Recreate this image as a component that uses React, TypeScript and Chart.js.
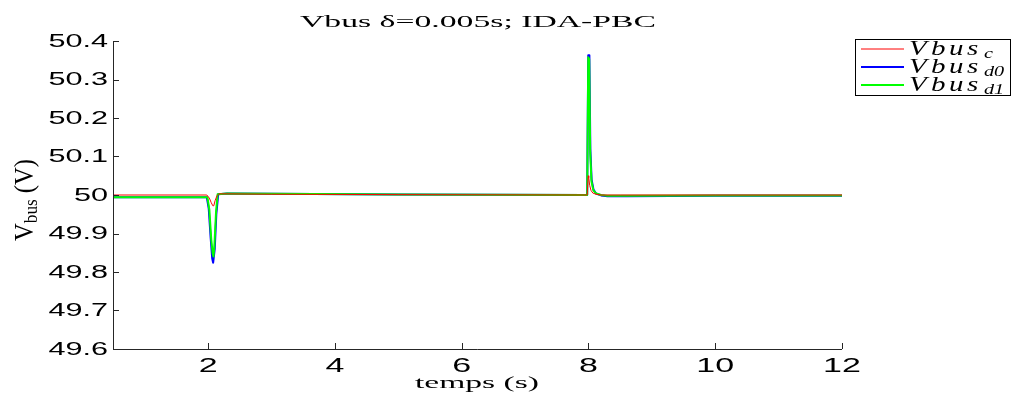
import React, { useEffect, useRef } from 'react';
import { Chart, registerables } from 'chart.js';

Chart.register(...registerables);

// ---- data ----
const timeC = [0.5, 1.98, 2.02, 2.05, 2.075, 2.09, 2.11, 2.14, 2.17, 2.3, 3, 5, 7.98, 7.997, 8.005, 8.02, 8.04, 8.07, 8.12, 8.2, 8.5, 10, 12];
const vbusC = [50.0, 50.0, 49.992, 49.98, 49.972, 49.972, 49.985, 49.998, 50.003, 50.003, 50.002, 50.001, 50.0, 50.05, 50.045, 50.025, 50.012, 50.005, 50.002, 50.0, 50.0, 50.0, 50.0];

const timeD0 = [0.5, 1.98, 2.01, 2.04, 2.065, 2.08, 2.09, 2.105, 2.13, 2.16, 2.3, 3, 5, 7.98, 7.997, 8.015, 8.03, 8.05, 8.08, 8.12, 8.2, 8.3, 8.6, 10, 12];
const vbusD0 = [49.994, 49.994, 49.965, 49.89, 49.835, 49.824, 49.824, 49.86, 49.95, 50.002, 50.004, 50.003, 50.001, 50.0, 50.363, 50.363, 50.12, 50.04, 50.014, 50.004, 49.999, 49.997, 49.997, 49.998, 49.998];

const timeD1 = [0.5, 1.99, 2.02, 2.05, 2.072, 2.085, 2.1, 2.125, 2.15, 2.3, 3, 5, 7.98, 7.997, 8.012, 8.028, 8.048, 8.078, 8.12, 8.2, 8.3, 8.6, 10, 12];
const vbusD1 = [49.994, 49.994, 49.962, 49.885, 49.848, 49.84, 49.87, 49.955, 50.002, 50.004, 50.003, 50.001, 50.0, 50.358, 50.353, 50.11, 50.035, 50.012, 50.004, 50.0, 49.998, 49.998, 49.999, 49.999];

const xTicks = [2, 4, 6, 8, 10, 12];
const xTickLabels = ['2', '4', '6', '8', '10', '12'];
const yTicks = [49.6, 49.7, 49.8, 49.9, 50.0, 50.1, 50.2, 50.3, 50.4];
const yTickLabels = ['49.6', '49.7', '49.8', '49.9', '50', '50.1', '50.2', '50.3', '50.4'];

const legendNames = ['c', 'd0', 'd1'];
const seriesColors = ['rgb(255,0,0)', 'rgb(0,0,255)', 'rgb(0,255,0)'];
const seriesWidths = [1, 2, 2];

const titleText = 'Vbus \u03b4=0.005s; IDA-PBC';
const xLabelText = 'temps (s)';

function toPoints(t: number[], v: number[]) {
  return t.map((x, i) => ({ x, y: v[i] }));
}

const AXIS_COLOR = '#262626';

function stretchedText(ctx: CanvasRenderingContext2D, text: string, x: number, y: number, sx: number) {
  ctx.save();
  ctx.translate(x, y);
  ctx.scale(sx, 1);
  ctx.fillText(text, 0, 0);
  ctx.restore();
}

function fitText(ctx: CanvasRenderingContext2D, text: string, cx: number, y: number, width: number) {
  const w = ctx.measureText(text).width;
  ctx.save();
  ctx.textAlign = 'center';
  ctx.translate(cx, y);
  ctx.scale(width / w, 1);
  ctx.fillText(text, 0, 0);
  ctx.restore();
}

const decorPlugin = {
  id: 'decor',
  afterDraw(chart: any) {
    const ctx = chart.ctx as CanvasRenderingContext2D;
    const { left, right, top, bottom } = chart.chartArea;
    const xs = chart.scales.x;
    const ys = chart.scales.y;
    ctx.save();
    // axes lines
    ctx.strokeStyle = AXIS_COLOR;
    ctx.lineWidth = 1;
    ctx.beginPath();
    ctx.moveTo(left + 0.5, top);
    ctx.lineTo(left + 0.5, bottom + 0.5);
    ctx.lineTo(right, bottom + 0.5);
    ctx.stroke();
    // inward ticks
    ctx.beginPath();
    yTicks.forEach((v) => {
      const py = Math.round(ys.getPixelForValue(v)) + 0.5;
      ctx.moveTo(left, py);
      ctx.lineTo(left + 6, py);
    });
    xTicks.forEach((v) => {
      const px = Math.round(xs.getPixelForValue(v)) + 0.5;
      ctx.moveTo(px, bottom);
      ctx.lineTo(px, bottom - 6);
    });
    ctx.stroke();

    // tick labels (stretched sans)
    ctx.fillStyle = '#000';
    ctx.font = '18px "Liberation Sans"';
    ctx.textAlign = 'right';
    ctx.textBaseline = 'middle';
    yTicks.forEach((v, i) => {
      stretchedText(ctx, yTickLabels[i], left - 5, ys.getPixelForValue(v) + 1, 1.7);
    });
    ctx.font = '20px "Liberation Sans"';
    ctx.textAlign = 'center';
    ctx.textBaseline = 'top';
    xTicks.forEach((v, i) => {
      stretchedText(ctx, xTickLabels[i], xs.getPixelForValue(v), bottom + 7, 1.7);
    });

    // title
    ctx.font = '17px "Liberation Serif"';
    ctx.textBaseline = 'alphabetic';
    fitText(ctx, titleText, 478, 27, 356);

    // x label
    ctx.font = '17px "Liberation Serif"';
    fitText(ctx, xLabelText, 477, 388, 124);

    // y label V_bus (V), rotated
    ctx.save();
    ctx.translate(33, 200);
    ctx.rotate(-Math.PI / 2);
    ctx.scale(1, 1.4);
    ctx.textAlign = 'left';
    ctx.font = '20px "Liberation Serif"';
    const wV = ctx.measureText('V').width;
    ctx.font = '14px "Liberation Serif"';
    const wSub = ctx.measureText('bus').width;
    ctx.font = '20px "Liberation Serif"';
    const wRest = ctx.measureText(' (V)').width;
    const total = wV + wSub + wRest;
    const k = 82 / total;
    ctx.scale(k, 1);
    let cx = -total / 2;
    ctx.fillText('V', cx, 0);
    cx += wV;
    ctx.font = '14px "Liberation Serif"';
    ctx.fillText('bus', cx, 3);
    cx += wSub;
    ctx.font = '20px "Liberation Serif"';
    ctx.fillText(' (V)', cx, 0);
    ctx.restore();

    // legend
    const bx = 855, by = 39, bw = 156, bh = 56;
    ctx.fillStyle = '#fff';
    ctx.fillRect(bx, by, bw, bh);
    ctx.strokeStyle = '#000';
    ctx.lineWidth = 1;
    ctx.strokeRect(bx + 0.5, by + 0.5, bw - 1, bh);
    const rowY = [49, 67, 85];
    legendNames.forEach((name, i) => {
      ctx.strokeStyle = seriesColors[i];
      ctx.lineWidth = seriesWidths[i];
      ctx.beginPath();
      ctx.moveTo(861, rowY[i]);
      ctx.lineTo(904, rowY[i]);
      ctx.stroke();
      ctx.fillStyle = '#000';
      ctx.textAlign = 'left';
      ctx.textBaseline = 'alphabetic';
      ctx.font = 'italic 20px "Liberation Serif"';
      const chars = ['V', 'b', 'u', 's'];
      const cxs = [909, 931, 949, 967];
      chars.forEach((c, j) => stretchedText(ctx, c, cxs[j], rowY[i] + 6, 1.45));
      ctx.font = 'italic 15px "Liberation Serif"';
      let sx = 984;
      name.split('').forEach((c) => {
        stretchedText(ctx, c, sx, rowY[i] + 9, 1.35);
        sx += 10;
      });
    });
    ctx.restore();
  },
};

export default function App() {
  const ref = useRef<HTMLCanvasElement | null>(null);
  useEffect(() => {
    document.body.style.margin = '0';
    const canvas = ref.current!;
    const mk = (i: number, t: number[], v: number[], order: number) => ({
      label: 'Vbus_' + legendNames[i],
      data: toPoints(t, v),
      borderColor: seriesColors[i],
      borderWidth: seriesWidths[i],
      borderJoinStyle: 'round' as const,
      pointRadius: 0,
      tension: 0,
      fill: false,
      order,
    });
    const chart = new Chart(canvas, {
      type: 'line',
      data: {
        datasets: [mk(0, timeC, vbusC, 0), mk(1, timeD0, vbusD0, 2), mk(2, timeD1, vbusD1, 1)],
      },
      options: {
        animation: false,
        responsive: false,
        devicePixelRatio: 1,
        layout: { padding: { left: 0, right: 170, top: 41, bottom: 0 } },
        plugins: { legend: { display: false }, title: { display: false }, tooltip: { enabled: false } },
        scales: {
          x: {
            type: 'linear',
            min: 0.5,
            max: 12,
            grid: { display: false },
            border: { display: false },
            ticks: { display: false },
            afterFit: (s: any) => {
              s.height = 45;
            },
          },
          y: {
            type: 'linear',
            min: 49.6,
            max: 50.4,
            grid: { display: false },
            border: { display: false },
            ticks: { display: false },
            afterFit: (s: any) => {
              s.width = 113;
            },
          },
        },
      },
      plugins: [decorPlugin],
    });
    return () => chart.destroy();
  }, []);
  return <canvas ref={ref} width={1012} height={394} style={{ display: 'block' }} />;
}
